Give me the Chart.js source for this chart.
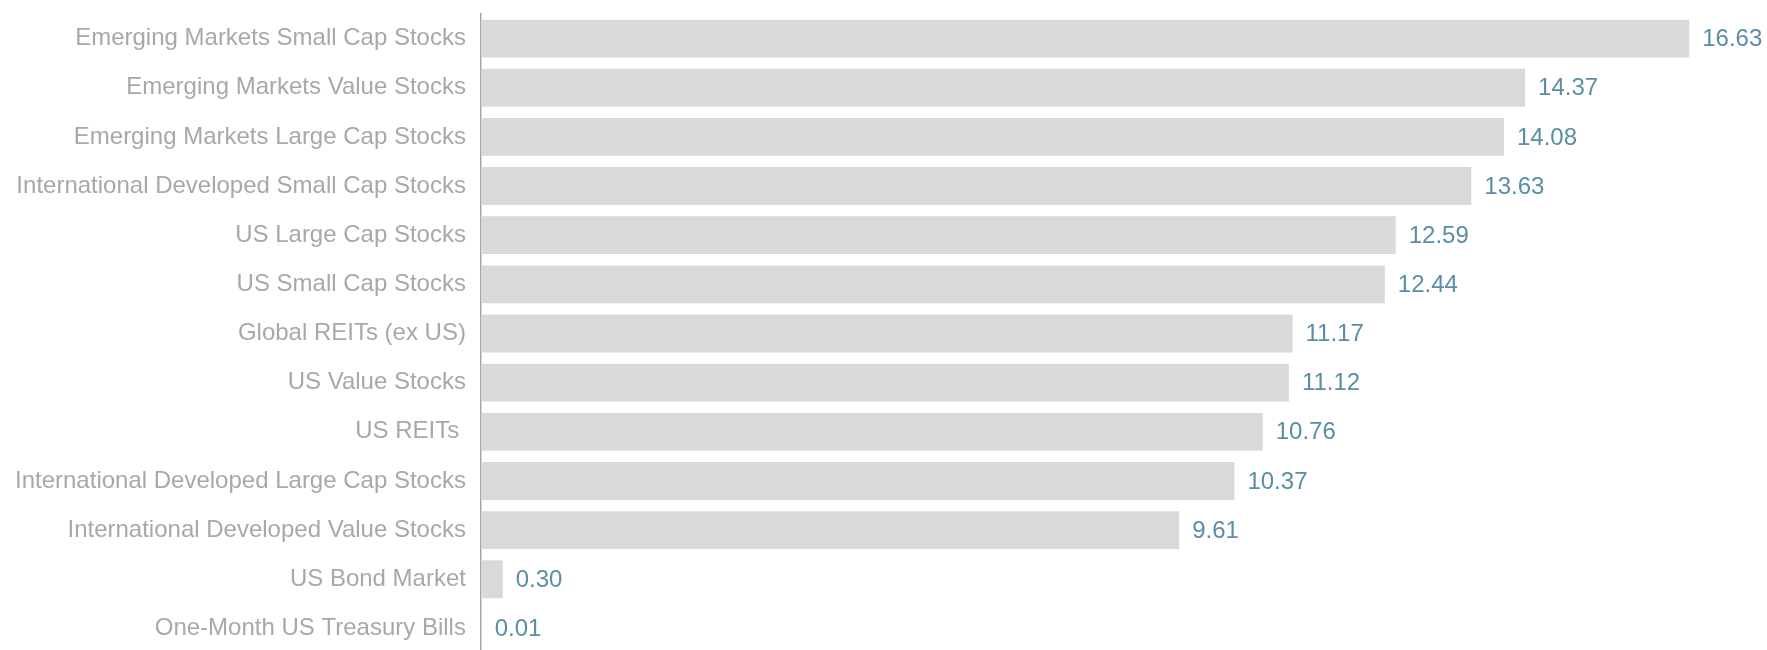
<!DOCTYPE html>
<html>
<head>
<meta charset="utf-8">
<script src="https://cdn.jsdelivr.net/npm/chart.js@4"></script>
<style>
  html, body { margin: 0; padding: 0; background: #fff; overflow: hidden; }
  #wrap { width: 1767px; height: 653px; position: relative; }
</style>
</head>
<body>
<div id="wrap"><canvas id="grafico"></canvas></div>
<script>
// Datos del gráfico
const categorias = [
    'Emerging Markets Small Cap Stocks',
    'Emerging Markets Value Stocks',
    'Emerging Markets Large Cap Stocks',
    'International Developed Small Cap Stocks',
    'US Large Cap Stocks',
    'US Small Cap Stocks',
    'Global REITs (ex US)',
    'US Value Stocks',
    'US REITs ',
    'International Developed Large Cap Stocks',
    'International Developed Value Stocks',
    'US Bond Market',
    'One-Month US Treasury Bills'
];
const valores = [16.63, 14.37, 14.08, 13.63, 12.59, 12.44, 11.17, 11.12, 10.76, 10.37, 9.61, 0.30, 0.01];

const fuente = '"Liberation Sans", Arial, sans-serif';

// Etiquetas de valor al final de cada barra
const etiquetasValor = {
    id: 'etiquetasValor',
    afterDatasetsDraw(chart) {
        const ctx = chart.ctx;
        const meta = chart.getDatasetMeta(0);
        ctx.save();
        ctx.font = '24px ' + fuente;
        ctx.fillStyle = '#5a8ea6';
        ctx.textAlign = 'left';
        ctx.textBaseline = 'middle';
        meta.data.forEach((bar, i) => {
            ctx.fillText(valores[i].toFixed(2), bar.x + 13, bar.y + 1);
        });
        ctx.restore();
    }
};

const ctx = document.getElementById('grafico').getContext('2d');
new Chart(ctx, {
    type: 'bar',
    data: {
        labels: categorias,
        datasets: [{
            data: valores,
            backgroundColor: '#d9d9d9',
            borderWidth: 0,
            barPercentage: 0.77,
            categoryPercentage: 1.0
        }]
    },
    options: {
        indexAxis: 'y',
        responsive: true,
        maintainAspectRatio: false,
        animation: false,
        layout: { padding: { top: 14, bottom: 0, left: 0, right: 0 } },
        plugins: {
            legend: { display: false },
            tooltip: { enabled: false }
        },
        scales: {
            x: {
                min: 0,
                max: 17.7,
                display: false
            },
            y: {
                grid: { display: false, drawTicks: false },
                border: { display: true, color: '#a6a6a6', width: 1.5 },
                ticks: {
                    color: '#a8a8a8',
                    padding: 15,
                    font: { family: fuente, size: 24 }
                },
                afterFit: (scale) => {
                    scale.paddingTop = 0;
                    scale.paddingBottom = 0;
                }
            }
        }
    },
    plugins: [etiquetasValor]
});
</script>
</body>
</html>
